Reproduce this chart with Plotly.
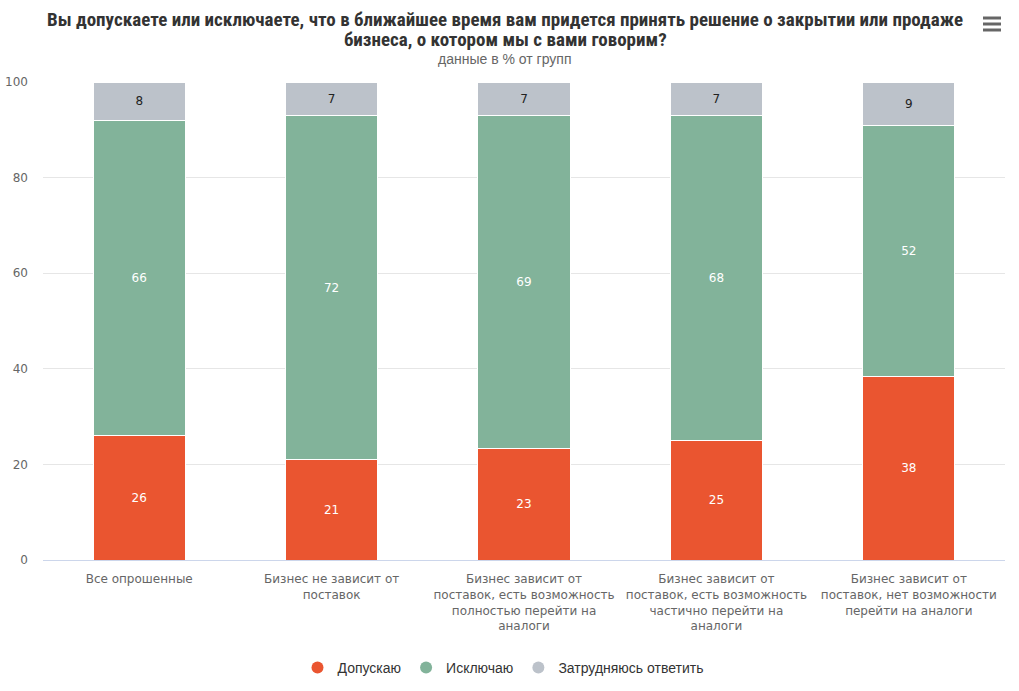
import plotly.graph_objects as go

categories = [
    "Все опрошенные",
    "Бизнес не зависит от<br>поставок",
    "Бизнес зависит от<br>поставок, есть возможность<br>полностью перейти на<br>аналоги",
    "Бизнес зависит от<br>поставок, есть возможность<br>частично перейти на<br>аналоги",
    "Бизнес зависит от<br>поставок, нет возможности<br>перейти на аналоги",
]
dopuskayu = [26, 21, 23, 25, 38]
isklyuchayu = [66, 72, 69, 68, 52]
zatrudnyayus = [8, 7, 7, 7, 9]

title_lines = [
    "Вы допускаете или исключаете, что в ближайшее время вам придется принять решение о закрытии или продаже",
    "бизнеса, о котором мы с вами говорим?",
]
subtitle = "данные в % от групп"

series = [
    ("Допускаю", dopuskayu, "#EA5530", "#ffffff"),
    ("Исключаю", isklyuchayu, "#82B39A", "#ffffff"),
    ("Затрудняюсь ответить", zatrudnyayus, "#BCC2CA", "#222222"),
]

L, T, W, H = 43, 82, 962, 478  # plot area in px


def px(x):
    return (x - L) / W


def py(y):
    return (T + H - y) / H


fig = go.Figure()
for name, vals, color, tcolor in series:
    fig.add_trace(go.Bar(
        x=categories, y=vals, name=name, text=vals,
        texttemplate="%{text}", textposition="inside", insidetextanchor="middle",
        textangle=0, constraintext="none",
        textfont=dict(family="DejaVu Sans", size=12, color=tcolor),
        marker=dict(color=color, line=dict(color="#ffffff", width=1)),
        width=0.48, showlegend=False, hoverinfo="skip",
    ))
for name, vals, color, tcolor in series:
    fig.add_trace(go.Scatter(
        x=[None], y=[None], mode="markers", name=name,
        marker=dict(symbol="circle", size=14, color=color),
    ))

annotations = [
    dict(text=f"<b>{line}</b>", xref="paper", yref="paper", x=px(505), y=py(yc),
         xanchor="center", yanchor="middle", showarrow=False,
         font=dict(family="Liberation Sans Narrow, Roboto Condensed, Liberation Sans",
                   size=19, color="#333333"))
    for line, yc in zip(title_lines, (19, 39))
]
annotations.append(
    dict(text=subtitle, xref="paper", yref="paper", x=px(505), y=py(59),
         xanchor="center", yanchor="middle", showarrow=False,
         font=dict(family="Liberation Sans Narrow, Liberation Sans", size=14, color="#666666"))
)

fig.update_layout(
    barmode="stack", barnorm="percent",
    width=1019, height=691,
    margin=dict(l=L, r=1019 - L - W, t=T, b=691 - T - H, autoexpand=False),
    paper_bgcolor="#ffffff", plot_bgcolor="#ffffff",
    font=dict(family="DejaVu Sans", size=12, color="#666666"),
    showlegend=True,
    legend=dict(orientation="h", x=px(503), xanchor="center", y=py(668), yanchor="middle",
                font=dict(family="Liberation Sans", size=14, color="#333333"),
                itemsizing="constant", traceorder="normal"),
    xaxis=dict(showgrid=False, showline=True, linecolor="#ccd6eb", linewidth=1,
               ticks="", automargin=False, ticklabelstandoff=8,
               tickfont=dict(family="DejaVu Sans", size=12, color="#666666"),
               fixedrange=True),
    yaxis=dict(range=[0, 100], tickvals=[0, 20, 40, 60, 80, 100], showgrid=True,
               gridcolor="#e6e6e6", zeroline=False, showline=False, ticks="",
               automargin=False, fixedrange=True,
               tickfont=dict(family="DejaVu Sans", size=12, color="#666666"),
               ticklabelstandoff=14),
    annotations=annotations,
    shapes=[
        dict(type="line", xref="paper", yref="paper",
             x0=px(983), x1=px(1001), y0=py(yy), y1=py(yy),
             line=dict(color="#666666", width=3))
        for yy in (18, 24, 30)
    ],
)

fig.write_html(
    "out.html",
    config={"displayModeBar": False},
    post_script="document.body.style.margin='0';document.body.style.overflow='hidden';",
)
